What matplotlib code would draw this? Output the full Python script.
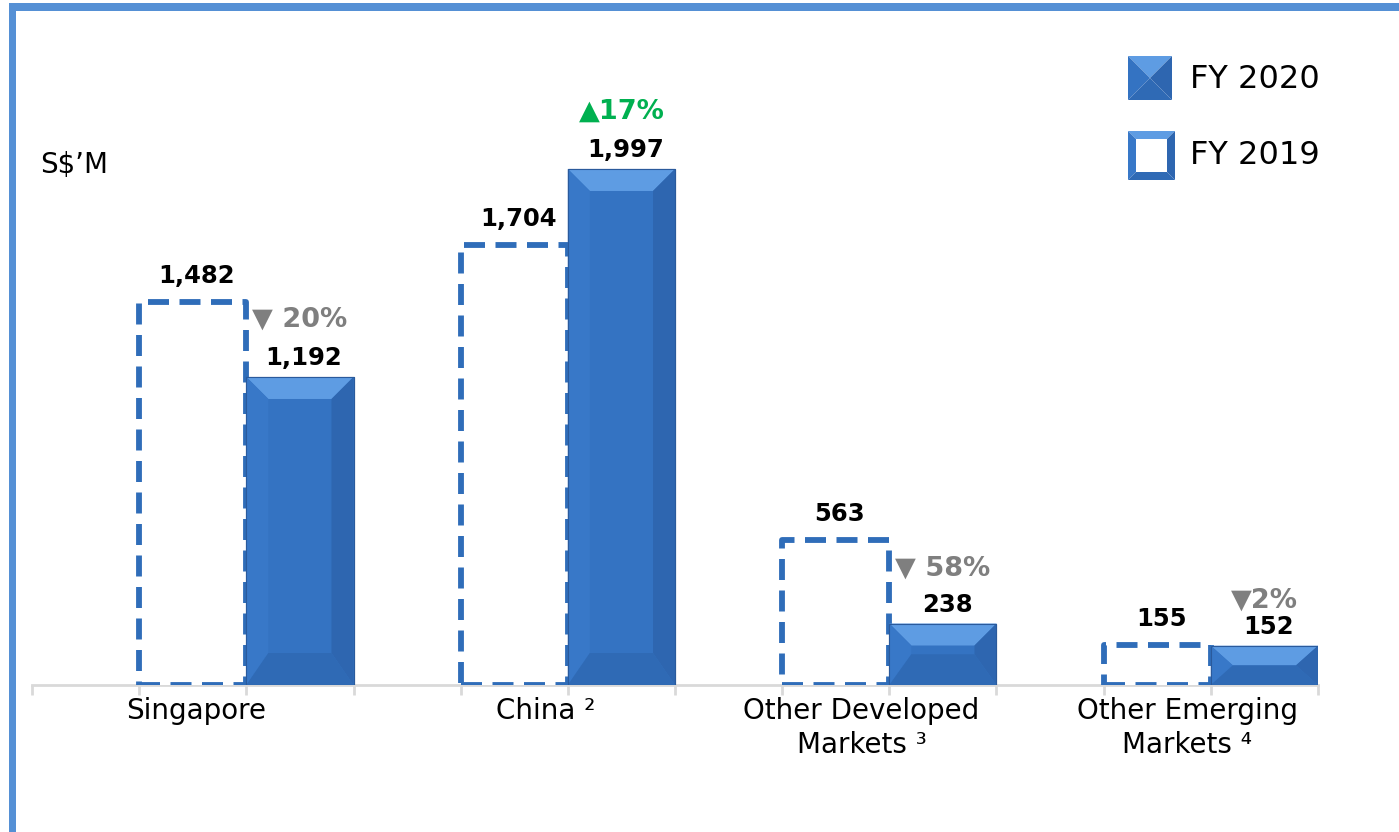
import matplotlib
matplotlib.use("Agg")
import matplotlib.pyplot as plt
from matplotlib.patches import Rectangle, Polygon

# ---------------- data ----------------
categories = ["Singapore", "China \u00b2", "Other Developed\nMarkets \u00b3", "Other Emerging\nMarkets \u2074"]
fy2019 = [1482, 1704, 563, 155]
fy2020 = [1192, 1997, 238, 152]
changes = ["\u25bc 20%", "\u25b217%", "\u25bc 58%", "\u25bc2%"]
change_up = [False, True, False, False]
series_names = ["FY 2020", "FY 2019"]
unit_label = "S$\u2019M"

# ---------------- layout / style ----------------
W, H = 1399, 832
BLUE = "#2F6DB9"
FACE = "#3473C2"
TOP = "#5E9CE3"
LEFT = "#3878C8"
RIGHT = "#2E66B0"
BOTTOM = "#2F6AB5"
EDGE = "#2A5A9C"
FRAME = "#5590D5"
GRAY = "#7F7F7F"
GREEN = "#00B050"
AXGRAY = "#D9D9D9"

plt.rcParams["font.family"] = ["DejaVu Sans"]

fig = plt.figure(figsize=(W / 100, H / 100), dpi=100)

px_per_unit = 0.2584
ymax = 2300
ax_left, ax_right, ax_base = 32, 1318, 685
ax = fig.add_axes([ax_left / W, (H - ax_base) / H, (ax_right - ax_left) / W, ymax * px_per_unit / H])
nslots = 3 * len(categories)
ax.set_xlim(0, nslots)
ax.set_ylim(0, ymax)
for s in ["top", "right", "left"]:
    ax.spines[s].set_visible(False)
ax.spines["bottom"].set_color(AXGRAY)
ax.spines["bottom"].set_linewidth(2)
ax.spines["bottom"].set_zorder(1)
ax.set_yticks([])
ax.set_xticks(range(nslots + 1))
ax.set_xticklabels([])
ax.tick_params(axis="x", length=7, width=2, color=AXGRAY)

x19 = [3 * i + 1 for i in range(len(categories))]
x20 = [3 * i + 2 for i in range(len(categories))]

# FY2019 dashed hollow bars
bars19 = ax.bar(x19, fy2019, width=1, align="edge", facecolor="white", edgecolor=BLUE,
                linewidth=4.2, linestyle=(0, (3.6, 1.8)), zorder=2)
for b in bars19:
    b.set_joinstyle("round")
    b.set_capstyle("butt")

# FY2020 bevelled bars
bars20 = ax.bar(x20, fy2020, width=1, align="edge", facecolor=FACE, edgecolor=EDGE,
                linewidth=0.8, zorder=3)
xunit_px = (ax_right - ax_left) / nslots
for b in bars20:
    x0, w, h = b.get_x(), b.get_width(), b.get_height()
    x1 = x0 + w
    s = 22 / xunit_px
    bt = min(22 / px_per_unit, h / 2)
    bb = min(32 / px_per_unit, h / 2)
    if bt + bb > h:
        bt = bb = h / 2
    polys = [
        ([(x0, h), (x1, h), (x1 - s, h - bt), (x0 + s, h - bt)], TOP),
        ([(x0, 0), (x0 + s, bb), (x0 + s, h - bt), (x0, h)], LEFT),
        ([(x1, 0), (x1, h), (x1 - s, h - bt), (x1 - s, bb)], RIGHT),
        ([(x0, 0), (x1, 0), (x1 - s, bb), (x0 + s, bb)], BOTTOM),
    ]
    for pts, c in polys:
        ax.add_patch(Polygon(pts, closed=True, facecolor=c, edgecolor="none", zorder=3.5))
    ax.add_patch(Rectangle((x0, 0), w, h, facecolor="none", edgecolor=EDGE, linewidth=0.8, zorder=3.6))

# value labels
for b, v in zip(bars19, fy2019):
    ax.annotate(f"{v:,}", (b.get_x() + b.get_width() / 2, v), xytext=(3, 26 * 0.72),
                textcoords="offset points", ha="center", va="center", fontsize=17.5,
                fontweight="heavy", color="black", zorder=5)
for b, v in zip(bars20, fy2020):
    ax.annotate(f"{v:,}", (b.get_x() + b.get_width() / 2, v), xytext=(3, 19 * 0.72),
                textcoords="offset points", ha="center", va="center", fontsize=17.5,
                fontweight="heavy", color="black", zorder=5)

# change labels
pct_offsets_px = [57, 57, 55, 45]
for b, v, chg, up, off in zip(bars20, fy2020, changes, change_up, pct_offsets_px):
    ax.annotate(chg, (b.get_x() + b.get_width() / 2, v), xytext=(0, off * 0.72),
                textcoords="offset points", ha="center", va="center", fontsize=19.5,
                fontweight="bold", color=GREEN if up else GRAY, zorder=5)

# category labels
label_shift = [0.03, 0.29, 0.24, 0.28]
for xs, lab, sh in zip(x19, categories, label_shift):
    ax.annotate(lab, (xs + 0.5 + sh, 0), xytext=(0, -12 * 0.72), textcoords="offset points",
                ha="center", va="top", fontsize=20, color="black", linespacing=1.28,
                annotation_clip=False)

# unit label
fig.text(40 / W, 1 - 165 / H, unit_label, fontsize=20, color="black", ha="left", va="center")

# frame lines
fig.patches.append(Rectangle((9 / W, 1 - 11 / H), 1 - 9 / W, 8 / H, transform=fig.transFigure,
                             facecolor=FRAME, edgecolor="none", zorder=0))
fig.patches.append(Rectangle((9 / W, 0), 7 / W, 1 - 3 / H, transform=fig.transFigure,
                             facecolor=FRAME, edgecolor="none", zorder=0))


# legend (manual)
def fpt(x, y):
    return (x / W, 1 - y / H)


def fig_poly(pts, color, z=5):
    fig.patches.append(Polygon([fpt(*p) for p in pts], closed=True, transform=fig.transFigure,
                               facecolor=color, edgecolor="none", zorder=z))


# FY2020 icon (pyramid bevel)
lx0, lx1, ly0, ly1 = 1128, 1172, 56, 100
cx, cy = (lx0 + lx1) / 2, (ly0 + ly1) / 2
fig_poly([(lx0, ly0), (lx1, ly0), (cx, cy)], TOP)
fig_poly([(lx0, ly0), (cx, cy), (lx0, ly1)], FACE)
fig_poly([(lx1, ly0), (lx1, ly1), (cx, cy)], RIGHT)
fig_poly([(lx0, ly1), (lx1, ly1), (cx, cy)], BOTTOM)
fig.text(1190 / W, 1 - 79 / H, series_names[0], fontsize=23, color="black", ha="left", va="center")

# FY2019 icon (bevel frame)
lx0, lx1, ly0, ly1 = 1128, 1175, 131, 180
t = 8
fig_poly([(lx0, ly0), (lx1, ly0), (lx1 - t, ly0 + t), (lx0 + t, ly0 + t)], TOP)
fig_poly([(lx0, ly0), (lx0 + t, ly0 + t), (lx0 + t, ly1 - t), (lx0, ly1)], LEFT)
fig_poly([(lx1, ly0), (lx1, ly1), (lx1 - t, ly1 - t), (lx1 - t, ly0 + t)], RIGHT)
fig_poly([(lx0, ly1), (lx1, ly1), (lx1 - t, ly1 - t), (lx0 + t, ly1 - t)], BOTTOM)
fig.text(1190 / W, 1 - 155 / H, series_names[1], fontsize=23, color="black", ha="left", va="center")

fig.savefig("out.png", dpi=100, facecolor="white")
